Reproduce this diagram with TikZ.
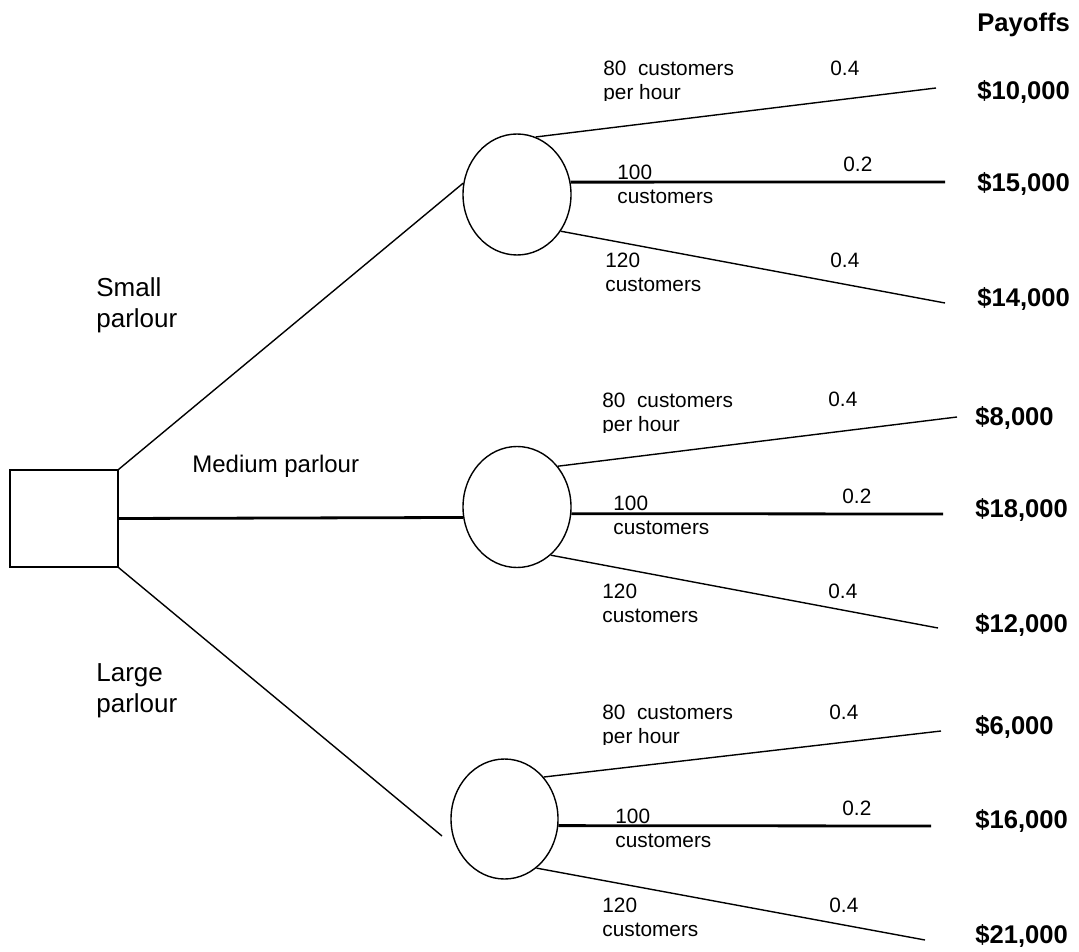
\documentclass[tikz,border=0pt]{standalone}
\usepackage{fontspec}
\setmainfont{Liberation Sans}
\usetikzlibrary{shapes.geometric}

\begin{document}
\begin{tikzpicture}[x=0.5pt,y=-0.5pt,
  chance/.style={draw,ellipse,line width=0.7pt,minimum width=54pt,minimum height=60.5pt,inner sep=0},
  branch/.style={line width=0.7pt},
  midbranch/.style={line width=1.4pt},
  lbl/.style={anchor=base west,inner sep=0,align=left,font=\fontsize{10.4}{12}\selectfont},
  opt/.style={anchor=base west,inner sep=0,align=left,font=\fontsize{13}{15.5}\selectfont},
  pay/.style={anchor=base west,inner sep=0,font=\fontsize{12.8}{15}\selectfont\bfseries}]
\useasboundingbox (0,0) rectangle (1079,951);

\node[draw,line width=0.6pt,minimum width=54pt,minimum height=48.5pt,inner sep=0] (d) at (64,518.5) {};
\node[chance] (c1) at (517,194.5) {};
\node[chance] (c2) at (517,507) {};
\node[chance,minimum width=53.5pt,minimum height=60pt] (c3) at (504.5,819) {};
\coordinate (l3) at (442,836);

\draw[branch] (d.north east) to (c1.168);
\draw[midbranch] (d.east) to (c2.191);
\draw[branch] (d.south east) to (l3);

\node[opt] (o1) at (96,328) {Small\\parlour};
\node[opt,font=\fontsize{12}{14}\selectfont] (o2) at (192,472) {Medium parlour};
\node[opt] (o3) at (96,712) {Large\\parlour};

\coordinate (e11) at (936,88);
\coordinate (e12) at (945,182);
\coordinate (e13) at (945,303);
\coordinate (e21) at (957,417);
\coordinate (e22) at (943,514);
\coordinate (e23) at (938,628);
\coordinate (e31) at (941,731);
\coordinate (e32) at (931,826);
\coordinate (e33) at (925,940);

\draw[branch] (c1.72) to (e11);
\draw[midbranch] (c1.13) to (e12);
\draw[branch] (c1.-40) to (e13);
\draw[branch] (c2.45) to (e21);
\draw[midbranch] (c2.-7) to (e22);
\draw[branch] (c2.-55) to (e23);
\draw[branch] (c3.47) to (e31);
\draw[midbranch] (c3.-7) to (e32);
\draw[branch] (c3.-57) to (e33);

\begin{scope}
\clip (590,50) rectangle (760,101);
\node[lbl] (a11) at (603,100) {80\ \ customers\\per hour};
\end{scope}
\node[lbl] (q11) at (830,76) {0.4};
\node[lbl] (a12) at (617,204) {100\\customers};
\node[lbl] (q12) at (843,172) {0.2};
\node[lbl] (a13) at (605,292) {120\\customers};
\node[lbl] (q13) at (830,268) {0.4};

\begin{scope}
\clip (590,380) rectangle (760,432);
\node[lbl] (a21) at (602,431) {80\ \ customers\\per hour};
\end{scope}
\node[lbl] (q21) at (828,407) {0.4};
\node[lbl] (a22) at (613,534) {100\\customers};
\node[lbl] (q22) at (842,503) {0.2};
\node[lbl] (a23) at (602,622) {120\\customers};
\node[lbl] (q23) at (828,598) {0.4};

\begin{scope}
\clip (590,690) rectangle (760,744);
\node[lbl] (a31) at (602,743) {80\ \ customers\\per hour};
\end{scope}
\node[lbl] (q31) at (829,719) {0.4};
\node[lbl] (a32) at (615,847) {100\\customers};
\node[lbl] (q32) at (842,815) {0.2};
\node[lbl] (a33) at (602,936) {120\\customers};
\node[lbl] (q33) at (829,912) {0.4};

\node[pay] (p0) at (977,32) {Payoffs};
\node[pay] (p11) at (977,100) {\$10,000};
\node[pay] (p12) at (977,192) {\$15,000};
\node[pay] (p13) at (977,307) {\$14,000};
\node[pay] (p21) at (975,425) {\$8,000};
\node[pay] (p22) at (975,517) {\$18,000};
\node[pay] (p23) at (975,632) {\$12,000};
\node[pay] (p31) at (975,734) {\$6,000};
\node[pay] (p32) at (975,828) {\$16,000};
\node[pay] (p33) at (975,943) {\$21,000};

\end{tikzpicture}
\end{document}
